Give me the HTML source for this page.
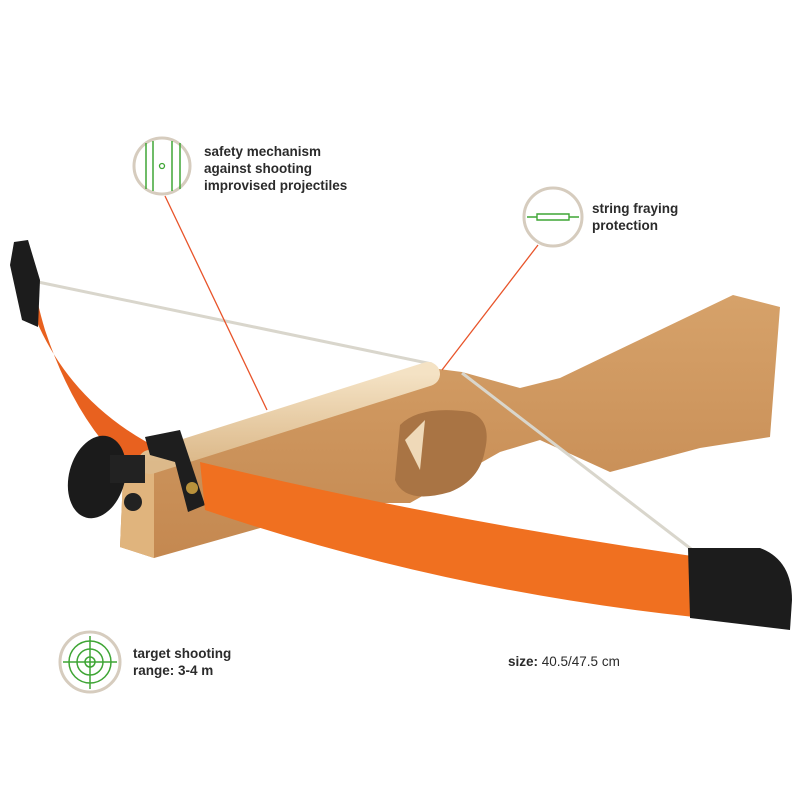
<!DOCTYPE html>
<html><head><meta charset="utf-8"><style>
html,body{margin:0;padding:0;background:#fff;}
svg{display:block}
text{font-family:"Liberation Sans",sans-serif;font-weight:bold;font-size:13.5px;fill:#2b2b2b}
</style></head><body>
<svg width="800" height="800" viewBox="0 0 800 800" xmlns="http://www.w3.org/2000/svg">
<defs>
<linearGradient id="wood" x1="0" y1="0" x2="0" y2="1">
<stop offset="0" stop-color="#d6a26a"/><stop offset="1" stop-color="#c48850"/>
</linearGradient>
<linearGradient id="rod" x1="0" y1="0" x2="0" y2="1">
<stop offset="0" stop-color="#f4e2c4"/><stop offset="1" stop-color="#dcb98a"/>
</linearGradient>
</defs>
<line x1="38" y1="282" x2="432" y2="364" stroke="#d9d6cc" stroke-width="3"/>
<!-- upper limb -->
<path d="M18,262 Q50,415 205,468 L205,510 Q95,480 45,330 Q36,300 34,280 Z" fill="#e8611f"/>
<!-- stock -->
<path d="M123,477 L154,468 L431,368 L462,372 L520,388 L560,378 L733,295 L780,307 L770,437 L700,448 L610,472 L540,440 L500,452 L410,503 L349,503 L154,558 L120,547 Z" fill="url(#wood)"/>
<path d="M123,477 L154,468 L154,558 L120,547 Z" fill="#e0b47d"/>
<!-- trigger hole -->
<path d="M400,425 Q420,405 470,412 Q492,420 485,450 Q480,480 450,492 Q405,505 395,480 Z" fill="#a97444"/>
<path d="M405,440 L425,420 L420,470 Z" fill="#efd9b8"/>
<!-- rod -->
<line x1="150" y1="462" x2="428" y2="374" stroke="url(#rod)" stroke-width="24" stroke-linecap="round"/>
<!-- knob -->
<ellipse cx="97" cy="477" rx="28" ry="42" transform="rotate(15 97 477)" fill="#1b1b1b"/>
<rect x="110" y="455" width="35" height="28" fill="#222"/>
<circle cx="133" cy="502" r="9" fill="#222"/>
<!-- strap -->
<path d="M145,437 L180,430 L205,505 L188,512 L175,462 L150,455 Z" fill="#1e1e1e"/>
<circle cx="192" cy="488" r="6" fill="#b8913b"/>
<!-- lower limb -->
<path d="M200,462 Q440,520 692,556 L694,617 Q440,590 205,510 Z" fill="#f07020"/>
<line x1="462" y1="373" x2="695" y2="552" stroke="#d9d6cc" stroke-width="3"/>
<!-- tips -->
<path d="M14,242 L28,240 L40,280 L38,327 L22,320 L10,265 Z" fill="#1c1c1c"/>
<path d="M688,548 L760,548 Q792,560 792,600 L790,630 L690,618 Z" fill="#1c1c1c"/>
<!-- callout lines -->
<line x1="165" y1="196" x2="267" y2="410" stroke="#e8542a" stroke-width="1.3"/>
<line x1="538" y1="245" x2="442" y2="370" stroke="#e8542a" stroke-width="1.3"/>
<!-- icon 1 -->
<circle cx="162" cy="166" r="28" fill="#fff" stroke="#d6ccbe" stroke-width="3"/>
<g stroke="#3fa535" stroke-width="1.5">
<line x1="146" y1="143" x2="146" y2="189"/><line x1="153" y1="141" x2="153" y2="191"/>
<line x1="172" y1="141" x2="172" y2="191"/><line x1="180" y1="143" x2="180" y2="189"/>
</g>
<circle cx="162" cy="166" r="2.5" fill="none" stroke="#3fa535" stroke-width="1.3"/>
<text x="204" y="156">safety mechanism</text>
<text x="204" y="173">against shooting</text>
<text x="204" y="190">improvised projectiles</text>
<!-- icon 2 -->
<circle cx="553" cy="217" r="29" fill="#fff" stroke="#d6ccbe" stroke-width="3"/>
<path d="M527,217 L537,217 L537,214 L569,214 L569,217 L579,217 M537,217 L537,220 L569,220 L569,217" fill="none" stroke="#3fa535" stroke-width="1.4"/>
<text x="592" y="213">string fraying</text>
<text x="592" y="230">protection</text>
<!-- icon 3 -->
<circle cx="90" cy="662" r="30" fill="#fff" stroke="#d6ccbe" stroke-width="3"/>
<g fill="none" stroke="#3fa535" stroke-width="1.5">
<circle cx="90" cy="662" r="21"/><circle cx="90" cy="662" r="13"/><circle cx="90" cy="662" r="5"/>
<line x1="63" y1="662" x2="117" y2="662"/><line x1="90" y1="636" x2="90" y2="689"/>
</g>
<text x="133" y="658">target shooting</text>
<text x="133" y="675">range: 3-4 m</text>
<text x="508" y="666">size: <tspan font-weight="normal">40.5/47.5 cm</tspan></text>
</svg>
</body></html>
